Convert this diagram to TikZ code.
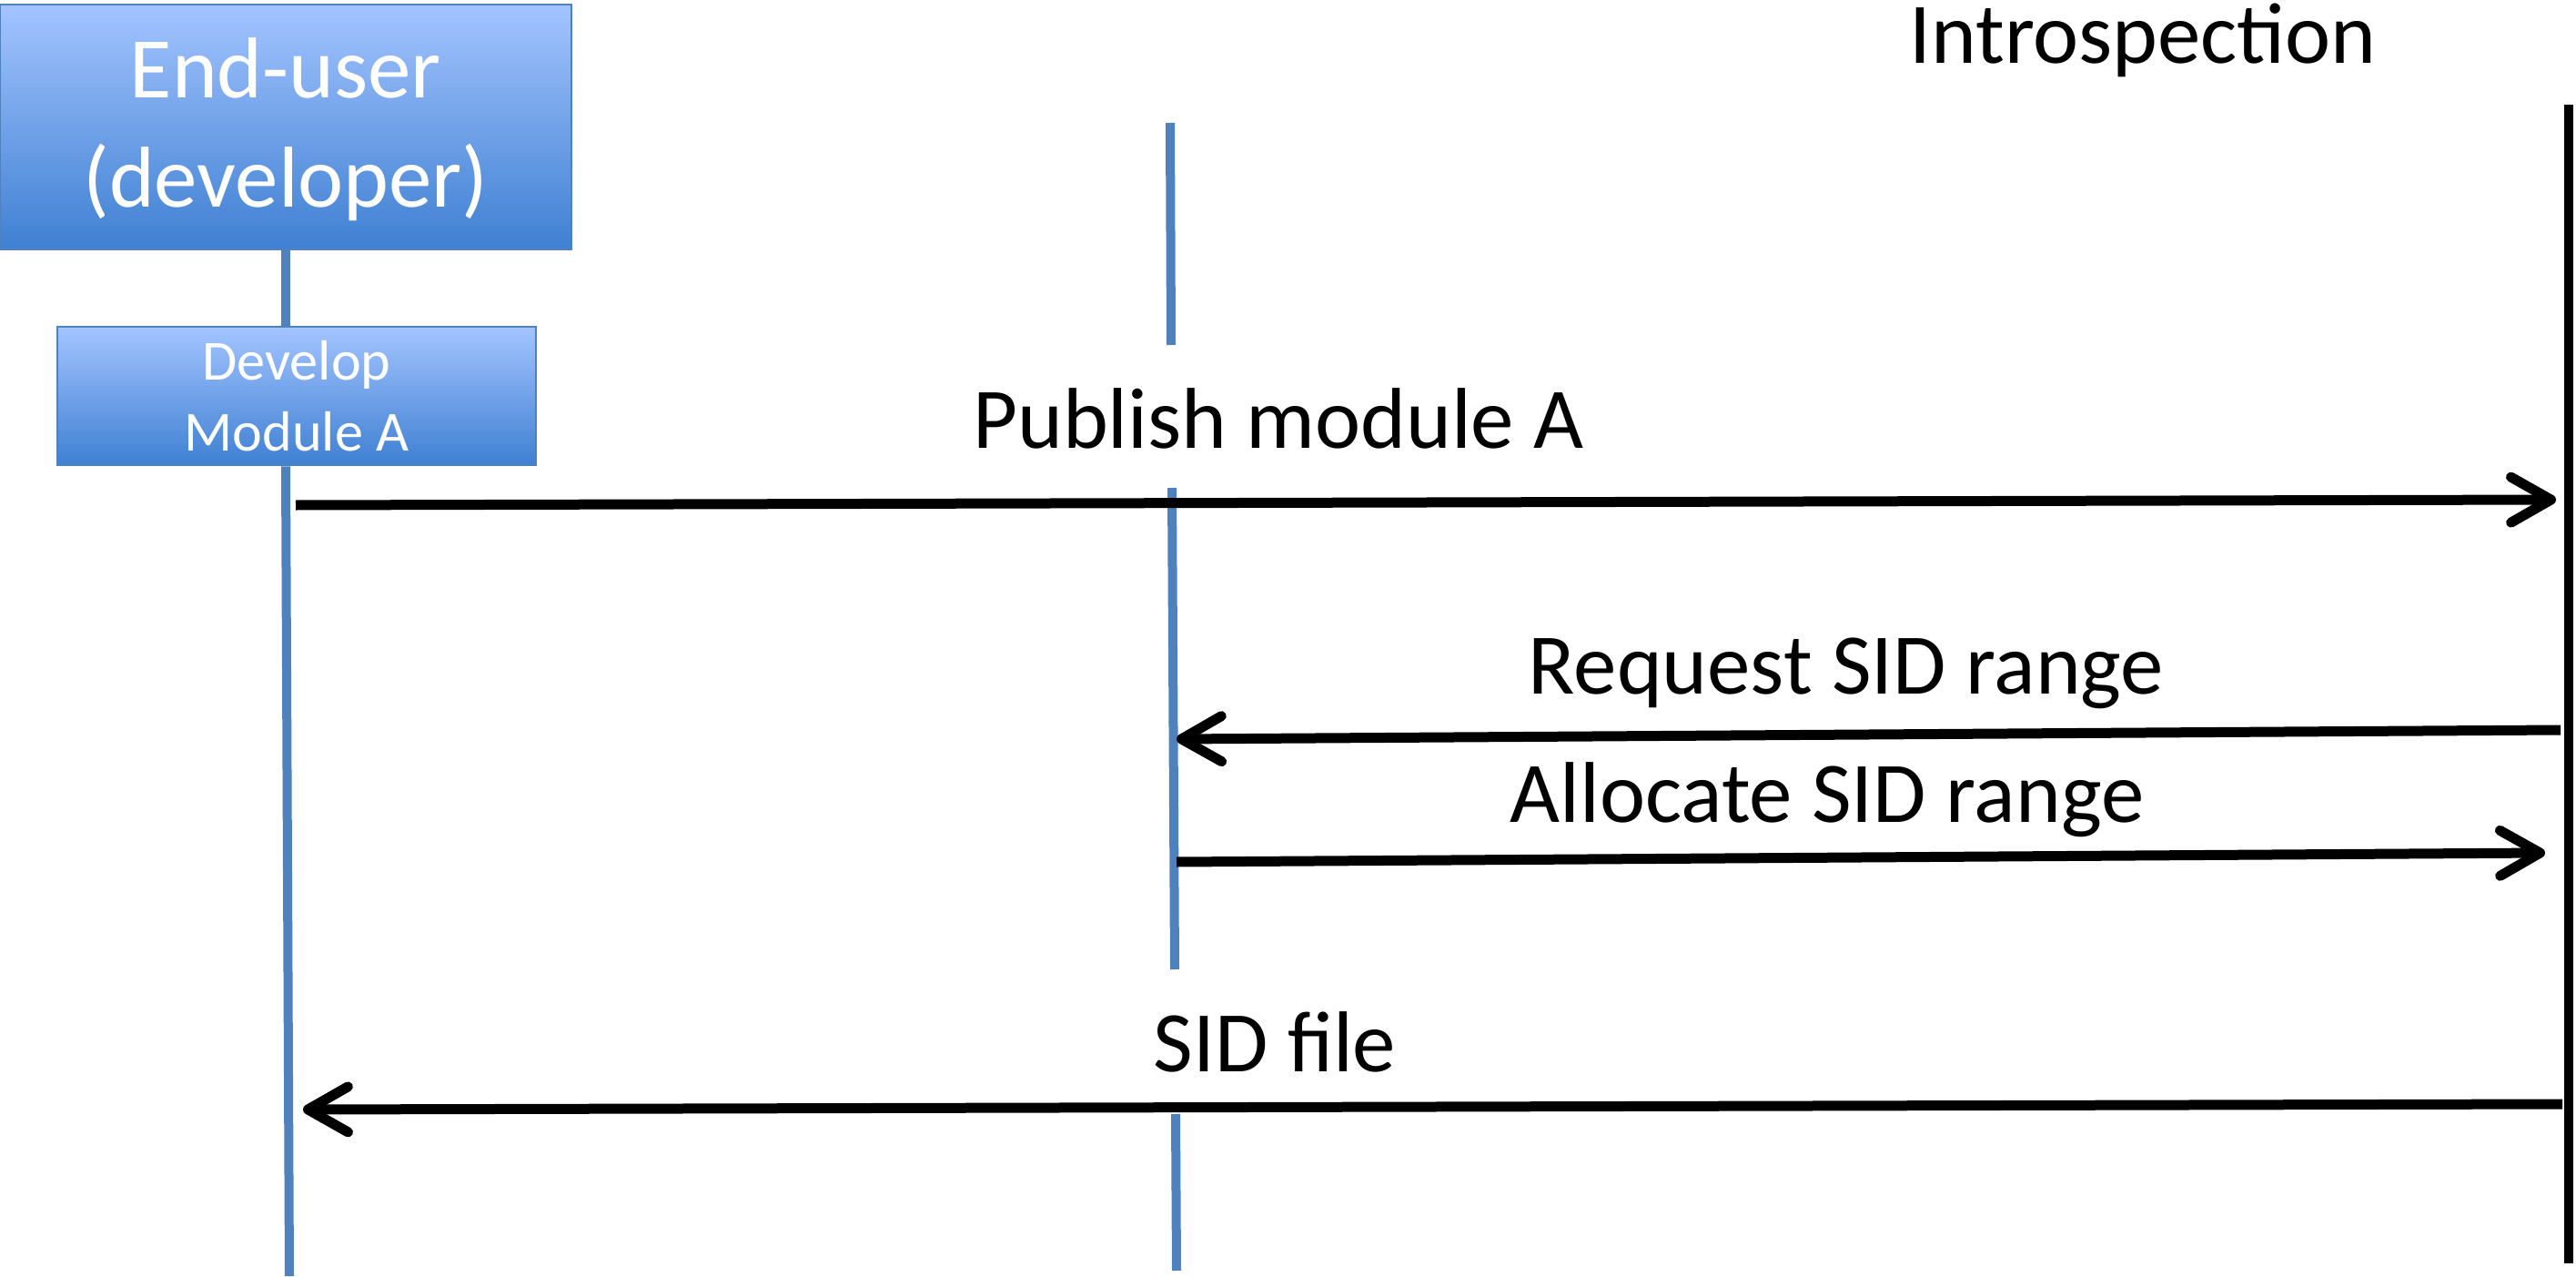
\documentclass[tikz,border=0pt]{standalone}
\usepackage{fontspec}
\setmainfont{Carlito}
\usetikzlibrary{positioning,arrows.meta}

\definecolor{boxtop}{HTML}{A3C4FF}
\definecolor{boxbot}{HTML}{3F80D2}
\definecolor{boxline}{HTML}{4F81BD}
\definecolor{lifeblue}{HTML}{4F81BD}

\begin{document}
\begin{tikzpicture}[
  actor/.style={rectangle, draw=boxline, line width=0.8pt, top color=boxtop, bottom color=boxbot, text=white, align=center, inner sep=0pt},
  life/.style={line width=0.1cm, lifeblue},
  msg/.style={line width=0.11cm, -{Straight Barb[length=0.44cm, width=0.5cm, line cap=round, line join=round]}},
  msgtext/.style={font=\fontsize{27}{33}\selectfont, anchor=base}
]
\useasboundingbox (0,0) rectangle (28.31,-14.03);

% boxes on the left
\node[actor, minimum width=6.28cm, minimum height=2.69cm, text depth=0.1cm, font=\fontsize{27}{34}\selectfont] (user) at (3.14,-1.395) {End-user\\(developer)};
\node[actor, minimum width=5.26cm, minimum height=1.52cm, font=\fontsize{17.7}{22}\selectfont] (devA) at (3.26,-4.35) {Develop\\Module A};
\node[msgtext] (intro) at (23.55,-0.70) {Introspection};

% lifeline ends
\coordinate (userend) at (3.18,-14.02);
\coordinate (midtop) at (12.86,-1.35);
\coordinate (midgapA) at (12.87,-3.79);
\coordinate (midgapB) at (12.88,-5.36);
\coordinate (midgapC) at (12.91,-10.65);
\coordinate (midgapD) at (12.92,-12.24);
\coordinate (midend) at (12.93,-13.96);
\coordinate (introtop) at (28.23,-1.15);
\coordinate (introend) at (28.23,-13.88);

\draw[life] (user.south) -- (user.south |- devA.north);
\draw[life] (user.south |- devA.south) -- (userend);
\draw[life] (midtop) -- (midgapA);
\draw[life] (midgapB) -- (midgapC);
\draw[life] (midgapD) -- (midend);
\draw[line width=0.1cm] (introtop) -- (introend);

% message ends
\coordinate (pubS) at (3.25,-5.55);
\coordinate (pubE) at (28.09,-5.49);
\coordinate (reqS) at (28.14,-8.02);
\coordinate (reqE) at (12.93,-8.12);
\coordinate (allS) at (12.93,-9.47);
\coordinate (allE) at (27.97,-9.37);
\coordinate (sidS) at (28.16,-12.13);
\coordinate (sidE) at (3.33,-12.19);

\draw[msg] (pubS) -- (pubE);
\draw[msg] (reqS) -- (reqE);
\draw[msg] (allS) -- (allE);
\draw[msg] (sidS) -- (sidE);

\node[msgtext] (pubT) at (14.05,-4.92) {Publish module A};
\node[msgtext] (reqT) at (20.29,-7.62) {Request SID range};
\node[msgtext] (allT) at (20.08,-9.03) {Allocate SID range};
\node[msgtext] (sidT) at (14.01,-11.77) {SID file};
\end{tikzpicture}
\end{document}
